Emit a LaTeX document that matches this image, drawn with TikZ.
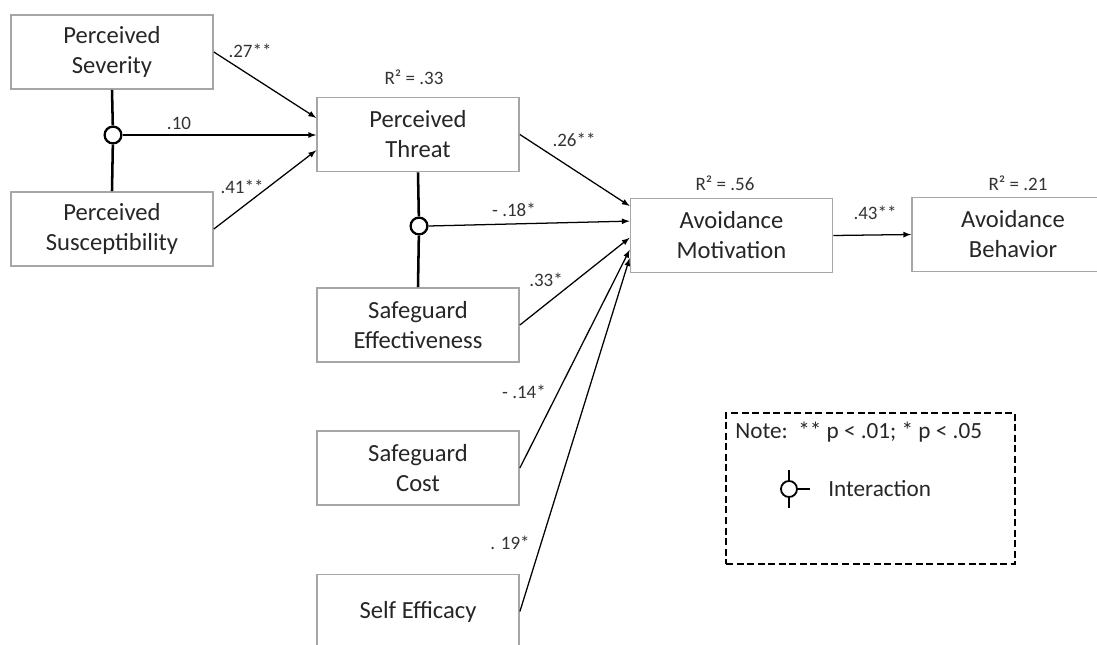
\documentclass[tikz,border=0pt]{standalone}
\usepackage{fontspec}
\setmainfont{Carlito}
\usetikzlibrary{calc}

\begin{document}
\begin{tikzpicture}[x=0.025cm,y=-0.025cm,
    bloc/.style={draw=gray!70,line width=1.2pt,minimum width=5.05cm,minimum height=1.85cm,
      inner sep=0pt,align=center,text=black!85,font=\fontsize{17.5}{21.3}\selectfont},
    coef/.style={inner sep=1pt,text=black!80,font=\fontsize{13.5}{16}\selectfont},
    fleche/.style={-latex,line width=0.9pt},
    inter/.style={circle,draw,fill=white,line width=1.6pt,minimum size=0.42cm,inner sep=0pt},
    lien/.style={line width=1.8pt}]
    \useasboundingbox (0,0) rectangle (1097,644);
    \clip (0,0) rectangle (1097,644);
    % variables
    \node[bloc] (sev) at (112,52) {Perceived\\Severity};
    \node[bloc] (sus) at (112,229) {Perceived\\Susceptibility};
    \node[bloc] (thr) at (418,134.5) {Perceived\\Threat};
    \node[bloc] (eff) at (418,325) {Safeguard\\Effectiveness};
    \node[bloc] (cost) at (418,468) {Safeguard\\Cost};
    \node[bloc] (self) at (418,611.5) {Self Efficacy};
    \node[bloc] (am) at (731.5,235.5) {Avoidance\\Motivation};
    \node[bloc] (ab) at (1013,234.5) {Avoidance\\Behavior};
    % interactions
    \node[inter] (ixa) at (113,135) {};
    \node[inter] (ixb) at (419,226) {};
    \draw[lien] (sev.south) -- (ixa) -- (sus.north);
    \draw[lien] (thr.south) -- (ixb) -- (eff.north);
    % chemins
    \draw[fleche] (sev.east) -- ($(thr.north west)!.28!(thr.south west)$);
    \draw[fleche] (ixa.east) -- (ixa.east -| thr.west);
    \draw[fleche] (sus.east) -- ($(thr.north west)!.71!(thr.south west)$);
    \draw[fleche] (thr.east) -- ($(am.north west)!.11!(am.south west)$);
    \draw[fleche] (ixb.east) -- ($(am.north west)!.31!(am.south west)$);
    \draw[fleche] (eff.east) -- ($(am.north west)!.53!(am.south west)$);
    \draw[fleche] (cost.east) -- ($(am.north west)!.69!(am.south west)$);
    \draw[fleche] (self.east) -- ($(am.north west)!.8!(am.south west)$);
    \draw[fleche] (am.east) -- (ab.west);
    % coefficients
    \node[coef] (cSev) at (250,51) {.27**};
    \node[coef] (cIxa) at (179,123) {.10};
    \node[coef] (cSus) at (242,187) {.41**};
    \node[coef] (cThr) at (574,140) {.26**};
    \node[coef] (cIxb) at (514,210) {- .18*};
    \node[coef] (cEff) at (546,280) {.33*};
    \node[coef] (cCost) at (524,392) {- .14*};
    \node[coef] (cSelf) at (510,543) {. 19*};
    \node[coef] (cAm) at (875,213) {.43**};
    \node[coef] (rThr) at (414,77) {R² = .33};
    \node[coef] (rAm) at (725,183) {R² = .56};
    \node[coef] (rAb) at (1018,183) {R² = .21};
    % legende
    \node[draw,dashed,dash pattern=on 5pt off 2.5pt,line width=1.4pt,
      minimum width=7.225cm,minimum height=3.775cm] (legende) at (870.5,488.5) {};
    \node[anchor=west,inner sep=0pt,text=black!85,font=\fontsize{16.5}{20}\selectfont]
      (note) at (735,432) {Note:\ \ ** p < .01; * p < .05};
    \node[inter,line width=1.3pt,minimum size=0.4cm] (lgix) at (789,489) {};
    \draw[line width=1.4pt] (lgix.north) -- ++(0,-10) (lgix.south) -- ++(0,10)
      (lgix.east) -- ++(12,0);
    \node[anchor=west,inner sep=0pt,text=black!85,font=\fontsize{16.5}{20}\selectfont]
      (lgtxt) at (828,489) {Interaction};
\end{tikzpicture}
\end{document}
